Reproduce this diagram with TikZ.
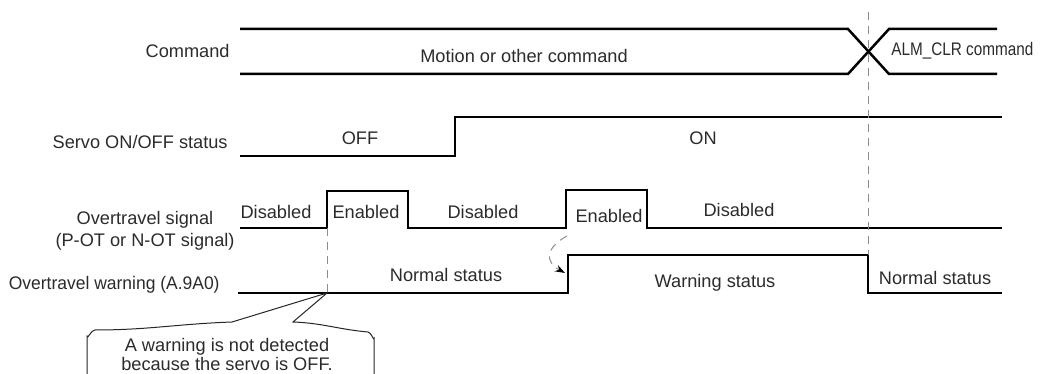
\documentclass[tikz,border=0pt]{standalone}
\usepackage{fontspec}
\setmainfont{Liberation Sans}
\usetikzlibrary{arrows.meta}
\definecolor{txt}{HTML}{2B2B2B}
\definecolor{dashc}{HTML}{8C8C8C}
\tikzset{
  wave/.style={line width=1.25pt, line join=miter, line cap=butt},
  lbl/.style={font=\fontsize{9.1}{11}\selectfont, text=txt, inner sep=0pt},
  guide/.style={dashc, line width=0.5pt, dash pattern=on 4pt off 3pt},
  callout/.style={line width=0.5pt, black!85},
}
\begin{document}
\begin{tikzpicture}[x=0.5pt,y=-0.5pt]
\useasboundingbox (0,0) rectangle (1062,374);
\clip (0,0) rectangle (1062,374);
% ---------- coordinates ----------
% command bus
\coordinate (c1) at (240,29);  \coordinate (c2) at (848,29);
\coordinate (c3) at (889,74);  \coordinate (c4) at (997,74);
\coordinate (d1) at (240,74);  \coordinate (d2) at (848,74);
\coordinate (d3) at (889,29);  \coordinate (d4) at (997,29);
% servo
\coordinate (s1) at (240,156); \coordinate (s2) at (455,156);
\coordinate (s3) at (455,117); \coordinate (s4) at (1002,117);
% overtravel signal
\coordinate (o1) at (240,228); \coordinate (o2) at (327,228);
\coordinate (o3) at (327,191); \coordinate (o4) at (408,191);
\coordinate (o5) at (408,228); \coordinate (o6) at (566,228);
\coordinate (o7) at (566,190); \coordinate (o8) at (647,190);
\coordinate (o9) at (647,228); \coordinate (o10) at (1002,228);
% overtravel warning
\coordinate (w1) at (238,293); \coordinate (w2) at (568,293);
\coordinate (w3) at (568,255); \coordinate (w4) at (868,255);
\coordinate (w5) at (868,293); \coordinate (w6) at (1002,293);
% guides
\coordinate (g1) at (868,12);
\coordinate (g2) at (327,293);
\coordinate (a1) at (567,236);
\coordinate (a2) at (565,273);
% ---------- waveforms ----------
\draw[wave] (c1) -- (c2) -- (c3) -- (c4);
\draw[wave] (d1) -- (d2) -- (d3) -- (d4);
\draw[wave] (s1) -- (s2) -- (s3) -- (s4);
\draw[wave] (o1) -- (o2) -- (o3) -- (o4) -- (o5) -- (o6) -- (o7) -- (o8) -- (o9) -- (o10);
\draw[wave] (w1) -- (w2) -- (w3) -- (w4) -- (w5) -- (w6);
% ---------- guides ----------
\draw[guide] (g1) -- (w4);
\draw[guide] (o2) -- (g2);
\draw[guide, -{Stealth[length=5pt,width=3.5pt,black]}] (a1) .. controls (545,248) and (545,262) .. (a2);
% ---------- labels ----------
\node[lbl, anchor=east] (lcmd) at (230,51) {Command};
\node[lbl] (lmot) at (524,56) {Motion or other command};
\node[lbl, anchor=west] (lalm) at (891,51) {\scalebox{0.84}[1]{ALM\_CLR command}};
\node[lbl, anchor=east] (lsrv) at (228,142) {Servo ON/OFF status};
\node[lbl] (loff) at (360,138) {OFF};
\node[lbl] (lon) at (703,138) {ON};
\node[lbl] (lot1) at (145,220) {Overtravel signal};
\node[lbl] (lot2) at (145,242) {(P-OT or N-OT signal)};
\node[lbl] (ld1) at (276,212) {Disabled};
\node[lbl] (le1) at (366,212) {Enabled};
\node[lbl] (ld2) at (483,212) {Disabled};
\node[lbl] (le2) at (609,216) {Enabled};
\node[lbl] (ld3) at (739,210) {Disabled};
\node[lbl, anchor=east] (lwarn) at (220,285) {\scalebox{0.96}[1]{Overtravel warning (A.9A0)}};
\node[lbl] (ln1) at (446,275) {Normal status};
\node[lbl] (lws) at (715,283) {Warning status};
\node[lbl] (ln2) at (935,278) {Normal status};
% ---------- callout ----------
\draw[callout] (87,390) -- (87,336) to[out=-80,in=178] (95,330)
  to[out=0,in=182] (232,322) -- (g2) -- (293,322)
  to[out=-2,in=175] (368,332) to[out=-5,in=-95] (374,338) -- (374,390);
\node[lbl, align=center] (lcall) at (227,354.5) {A warning is not detected\\[-1.5pt]because the servo is OFF.};
\end{tikzpicture}
\end{document}
